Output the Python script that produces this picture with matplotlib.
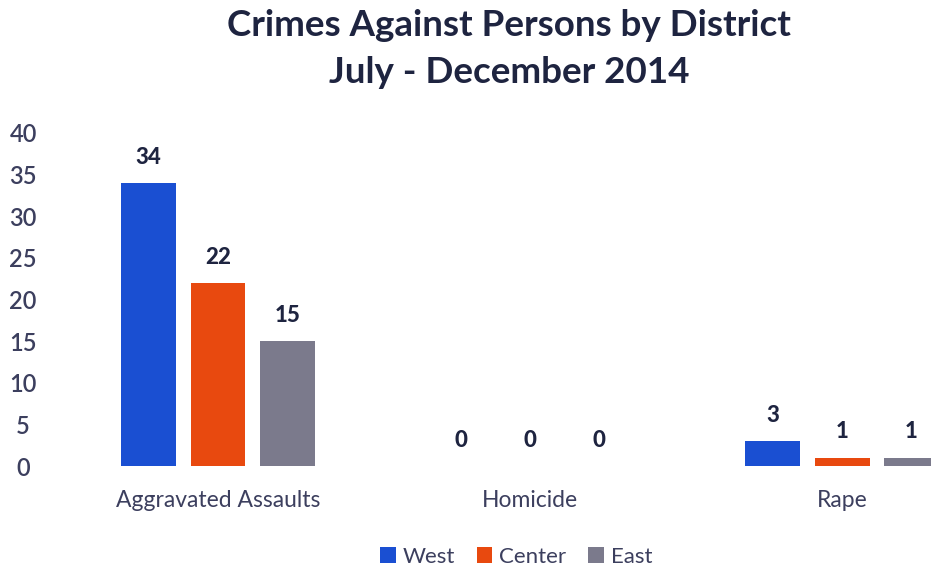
import numpy as np
import matplotlib.pyplot as plt

plt.rcParams['font.family'] = ['Lato', 'DejaVu Sans']

# Data
categories = ["Aggravated Assaults", "Homicide", "Rape"]
districts = ["West", "Center", "East"]
west = [34, 0, 3]
center = [22, 0, 1]
east = [15, 0, 1]
colors = ["#1a4fd2", "#e8490f", "#7b7a8c"]

label_color = "#3c3f5e"
value_color = "#1e2440"

fig = plt.figure(figsize=(9.31, 5.72), dpi=100)
ax = fig.add_axes([62 / 931, 106 / 572, 1 - 62 / 931, 333 / 572])

x = np.arange(len(categories))
step = 0.222
width = 0.176

for i, (vals, name, col) in enumerate(zip([west, center, east], districts, colors)):
    pos = x + (i - 1) * step
    bars = ax.bar(pos, vals, width, color=col, label=name)
    for b, v in zip(bars, vals):
        ax.annotate(str(v), (b.get_x() + b.get_width() / 2, v),
                    xytext=(0, 11), textcoords="offset points",
                    ha="center", va="bottom", fontsize=16,
                    fontweight="black", color=value_color)

ax.set_xlim(-0.5, 2.285)
ax.set_ylim(0, 40)
ax.set_yticks(np.arange(0, 41, 5))
ax.set_xticks(x)
ax.set_xticklabels(categories)
ax.tick_params(axis="both", length=0, labelcolor=label_color)
ax.tick_params(axis="x", labelsize=16.5, pad=17)
ax.tick_params(axis="y", labelsize=17, pad=28)
for lab in ax.get_yticklabels():
    lab.set_horizontalalignment("center")
    lab.set_fontweight("semibold")
for s in ax.spines.values():
    s.set_visible(False)

fig.text(0.547, 0.955, "Crimes Against Persons by District", ha="center",
         va="center", fontsize=26.5, fontweight="bold", color=value_color)
fig.text(0.547, 0.873, "July - December 2014", ha="center",
         va="center", fontsize=26.5, fontweight="bold", color=value_color)

fig.legend(loc="center", bbox_to_anchor=(516 / 931, 1 - 557 / 572), ncol=3,
           frameon=False, fontsize=16, handlelength=0.7, handleheight=0.7,
           handletextpad=0.3, columnspacing=1.0, labelcolor=label_color)

fig.savefig("out.png", dpi=100)
